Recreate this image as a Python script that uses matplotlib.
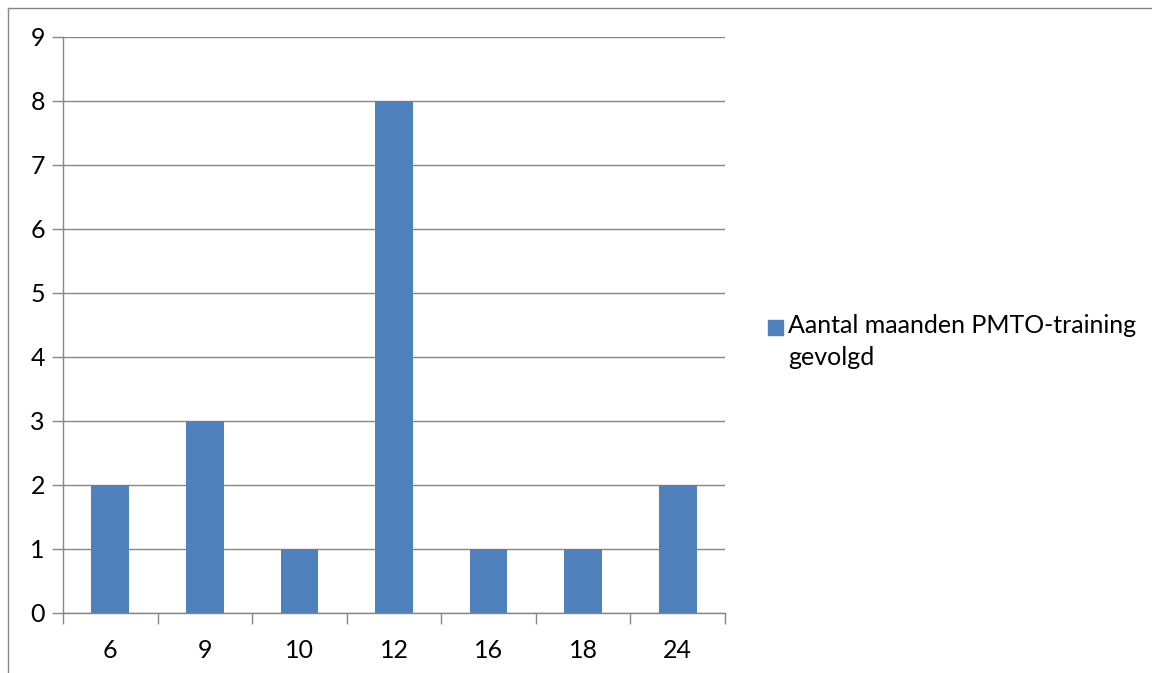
import matplotlib
matplotlib.use("Agg")
import matplotlib.pyplot as plt
from matplotlib.patches import Rectangle
from matplotlib.lines import Line2D

# Data: number of months of PMTO training followed
categories = ["6", "9", "10", "12", "16", "18", "24"]
counts = [2, 3, 1, 8, 1, 1, 2]
y_ticks = list(range(0, 10))
series_label = "Aantal maanden PMTO-training\ngevolgd"

BAR = "#4F81BD"
GRID = "#868686"
FONT = "Lato"
FS = 18

W, H = 1152, 673
fig = plt.figure(figsize=(W / 100, H / 100), dpi=100)
fig.patch.set_facecolor("white")

# Outer chart border (top and left edges visible)
fig.add_artist(Line2D([8 / W, 1], [1 - 8 / H, 1 - 8 / H], transform=fig.transFigure,
                      color=GRID, lw=1.0))
fig.add_artist(Line2D([8 / W, 8 / W], [0, 1 - 8 / H], transform=fig.transFigure,
                      color=GRID, lw=1.0))

left, right, top, bottom = 63, 725, 37, 613
ax = fig.add_axes([left / W, (H - bottom) / H, (right - left) / W, (bottom - top) / H])

x = list(range(len(categories)))
ax.bar(x, counts, width=0.4, color=BAR, zorder=3)

ax.set_xlim(-0.5, len(categories) - 0.5)
ax.set_ylim(0, 9)
ax.set_yticks(y_ticks)
ax.set_yticklabels([str(v) for v in y_ticks], fontfamily=FONT, fontsize=FS)
ax.set_xticks(x)
ax.set_xticklabels(categories, fontfamily=FONT, fontsize=FS)
ax.set_xticks([i - 0.5 for i in range(len(categories) + 1)], minor=True)

ax.tick_params(axis="x", which="major", length=0, pad=19)
ax.tick_params(axis="x", which="minor", length=8, width=1.0, color=GRID, direction="out")
ax.tick_params(axis="y", which="major", length=8, width=1.0, color=GRID, direction="out", pad=5)

ax.yaxis.grid(True, color=GRID, lw=1.0, zorder=0)
ax.set_axisbelow(True)
for side in ("top", "right"):
    ax.spines[side].set_visible(False)
for side in ("left", "bottom"):
    ax.spines[side].set_color(GRID)
    ax.spines[side].set_linewidth(1.0)
    ax.spines[side].set_zorder(4)

# Legend
fig.add_artist(Rectangle((768 / W, 1 - 335 / H), 15 / W, 15 / H, transform=fig.transFigure,
                         color=BAR))
fig.text(788 / W, 1 - 314 / H, series_label, fontfamily=FONT, fontsize=FS,
         ha="left", va="top", linespacing=1.45)

fig.savefig("out.png", dpi=100)
